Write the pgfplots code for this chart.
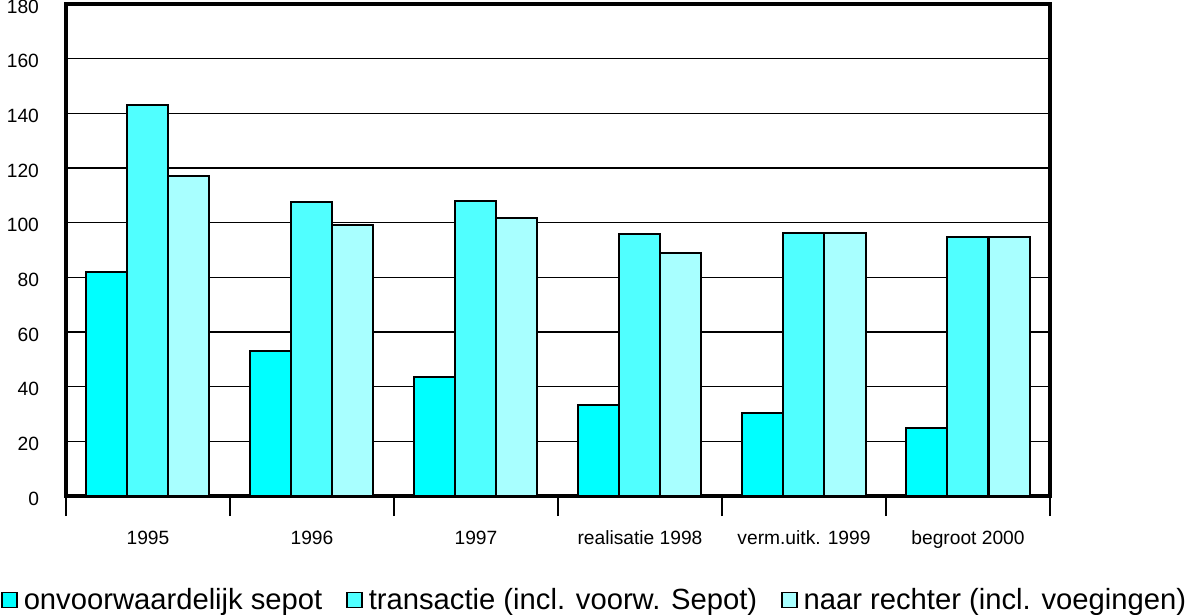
\documentclass[border=0pt]{standalone}
\usepackage{pgfplots}
\pgfplotsset{compat=1.18}
\usepackage{fontspec}
\setmainfont{Liberation Sans}

\definecolor{cA}{RGB}{0,255,255}
\definecolor{cB}{RGB}{80,255,255}
\definecolor{cC}{RGB}{168,255,255}

\begin{document}
\begin{tikzpicture}
\useasboundingbox (0,0) rectangle (594.5pt,-307.5pt);
\begin{axis}[
  at={(33pt,-248pt)}, anchor=south west,
  scale only axis,
  width=492pt, height=246pt,
  ybar=0pt, bar width=20.5pt,
  xmin=-0.5, xmax=5.5,
  ymin=0, ymax=180,
  ytick={0,20,...,180},
  xtick={0,1,2,3,4,5},
  xticklabels={1995,1996,1997,realisatie 1998,verm.uitk. 1999,begroot 2000},
  minor xtick={-0.5,0.5,...,5.5},
  major tick length=0pt,
  minor tick length=10pt,
  tick align=outside,
  xtick pos=bottom, ytick pos=left,
  ymajorgrids,
  major grid style={black, line width=0.6pt},
  minor x tick style={black, line width=0.6pt},
  axis line style={line width=1.6pt},
  /pgf/number format/assume math mode=true,
  tick label style={font=\fontsize{9.6}{11}\selectfont},
  yticklabel style={xshift=-10pt, yshift=-1.2pt},
  xticklabel style={yshift=-14pt},
  legend image code/.code={\draw[#1, draw=black, line width=0.7pt] (0pt,-3.75pt) rectangle (7.5pt,3.75pt);},
  legend style={at={(-0.0661,-0.2114)}, anchor=west, draw=none, fill=none,
    inner sep=0pt, legend columns=3,
    font=\fontsize{14.6}{17}\selectfont,
    nodes={inner sep=3pt},
    /tikz/every even column/.append style={column sep=9pt}},
  every axis plot/.append style={draw=black, line width=1pt},
]
\addplot[fill=cA] coordinates {(0,82) (1,53) (2,43.4) (3,33.2) (4,30.3) (5,25)};
\addplot[fill=cB] coordinates {(0,143.2) (1,107.7) (2,108) (3,96) (4,96.3) (5,94.9)};
\addplot[fill=cC] coordinates {(0,116.9) (1,99.3) (2,101.8) (3,89) (4,96.3) (5,94.9)};
\legend{onvoorwaardelijk sepot,transactie (incl. voorw. Sepot),naar rechter (incl. voegingen)}
\end{axis}
\end{tikzpicture}
\end{document}
